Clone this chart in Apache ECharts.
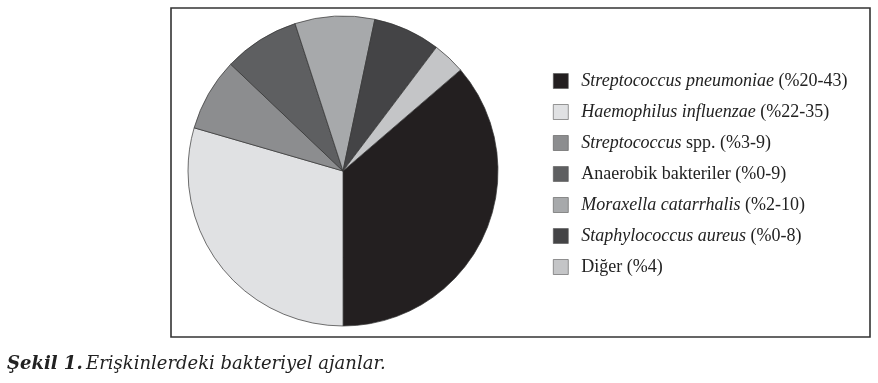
<!DOCTYPE html>
<html><head><meta charset="utf-8">
<script src="https://cdn.jsdelivr.net/npm/echarts@6/dist/echarts.min.js"></script>
<style>html,body{margin:0;padding:0;background:#fff}#c{width:878px;height:383px}</style>
</head><body><div id="c"></div>
<script>
const speciesNames = ["Streptococcus pneumoniae","Haemophilus influenzae","Streptococcus","Anaerobik bakteriler","Moraxella catarrhalis","Staphylococcus aureus","Diğer"];
const italicParts = ["Streptococcus pneumoniae","Haemophilus influenzae","Streptococcus","","Moraxella catarrhalis","Staphylococcus aureus",""];
const plainParts = [" (%20-43)"," (%22-35)"," spp. (%3-9)","Anaerobik bakteriler (%0-9)"," (%2-10)"," (%0-8)","Diğer (%4)"];
const values = [36.3, 29.5, 7.6, 7.9, 8.3, 7.0, 3.4];
const colors = ["#231f20","#e0e1e3","#8c8d8f","#5e5f61","#a7a9ab","#444446","#c4c5c7"];

const data = speciesNames.map((n,i)=>({name:n, value:values[i], itemStyle:{color:colors[i]}}));
const chart = echarts.init(document.getElementById('c'));
chart.setOption({
  animation:false,
  graphic:[
    {type:'rect', shape:{x:171,y:8,width:699,height:329}, style:{fill:'none',stroke:'#333',lineWidth:1.6}, z:-1},
    {type:'text', x:7, y:364, style:{verticalAlign:'middle', rich:{b:{fontFamily:'DejaVu Serif',fontStyle:'italic',fontWeight:'bold',fontSize:18,fill:'#222'},i:{fontFamily:'DejaVu Serif',fontStyle:'italic',fontSize:18,fill:'#222'}}, text:'{b|Şekil 1.} {i|Erişkinlerdeki bakteriyel ajanlar.}'}}
  ],
  legend:{
    orient:'vertical', left:553, top:72, padding:0, itemWidth:15, itemHeight:15, itemGap:13,
    icon:'rect',
    itemStyle:{borderColor:'#555',borderWidth:0.6},
    selectedMode:false,
    formatter:function(name){
      const i = speciesNames.indexOf(name);
      let s = '';
      if(italicParts[i]) s += '{i|'+italicParts[i]+'}';
      s += '{n|'+plainParts[i]+'}';
      return s;
    },
    textStyle:{
      padding:[0,0,0,8],
      rich:{
        i:{fontFamily:'Liberation Serif',fontStyle:'italic',fontSize:18,color:'#222'},
        n:{fontFamily:'Liberation Serif',fontSize:18,color:'#222'}
      }
    }
  },
  series:[{
    type:'pie', center:[343,171], radius:[0,155], startAngle:40.7, clockwise:true,
    label:{show:false}, labelLine:{show:false}, silent:true,
    itemStyle:{borderColor:'#333',borderWidth:0.7},
    data:data
  }]
});
</script></body></html>
